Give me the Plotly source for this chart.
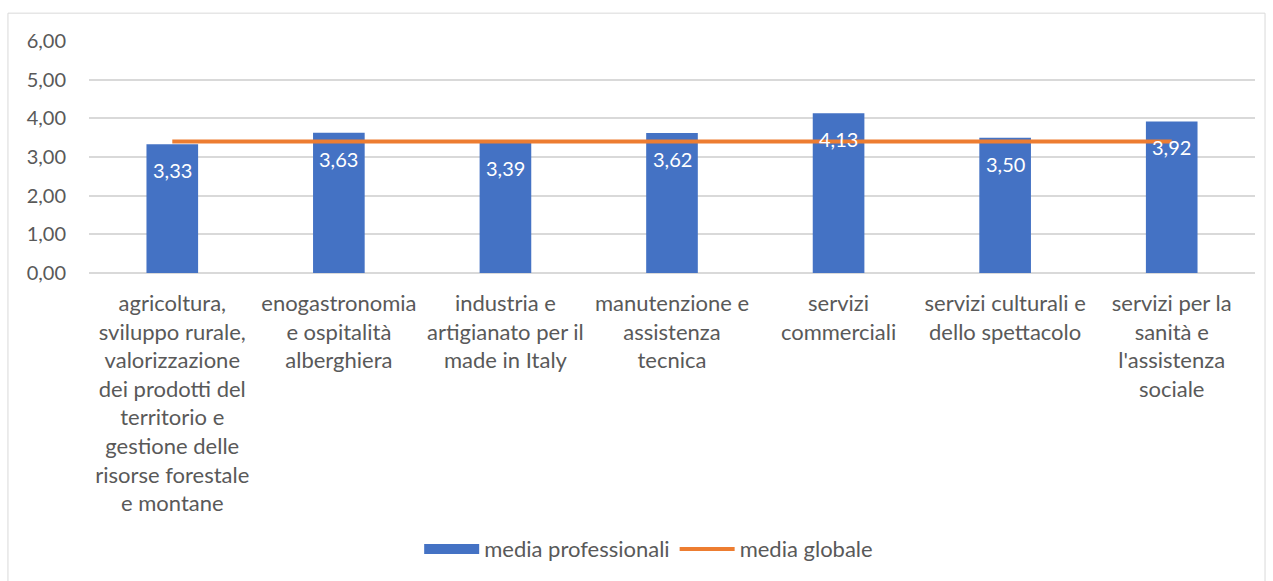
import plotly.graph_objects as go

categories = [
    "agricoltura,<br>sviluppo rurale,<br>valorizzazione<br>dei prodotti del<br>territorio e<br>gestione delle<br>risorse forestale<br>e montane",
    "enogastronomia<br>e ospitalità<br>alberghiera",
    "industria e<br>artigianato per il<br>made in Italy",
    "manutenzione e<br>assistenza<br>tecnica",
    "servizi<br>commerciali",
    "servizi culturali e<br>dello spettacolo",
    "servizi per la<br>sanità e<br>l'assistenza<br>sociale",
]
media_professionali = [3.33, 3.63, 3.39, 3.62, 4.13, 3.50, 3.92]
media_globale = [3.40] * len(categories)

FONT = "Lato, 'Open Sans', sans-serif"
GREY = "#595959"
BLUE = "#4472C4"
ORANGE = "#ED7D31"

fig = go.Figure()
fig.add_trace(go.Bar(
    x=categories, y=media_professionali, name="media professionali",
    marker=dict(color=BLUE, line=dict(width=0)), width=0.31,
    showlegend=False,
))
# wide legend swatch for the bar series
fig.add_trace(go.Scatter(
    x=[None], y=[None], name="media professionali", mode="lines",
    line=dict(color=BLUE, width=13), hoverinfo="skip",
))
fig.add_trace(go.Scatter(
    x=categories, y=media_globale, name="media globale", mode="lines",
    line=dict(color=ORANGE, width=4),
))

# value labels just inside the top of each bar
for cat, v in zip(categories, media_professionali):
    fig.add_annotation(
        x=cat, y=v, yanchor="top", yshift=-12, showarrow=False,
        text=f"{v:.2f}".replace(".", ","),
        font=dict(family=FONT, size=20, color="white"),
    )

# outer chart border
fig.add_shape(type="rect", xref="paper", yref="paper",
              x0=-0.0695, x1=1.0086, y0=-1.37, y1=1.12,
              line=dict(color="#D9D9D9", width=1), layer="below")

fig.update_layout(
    width=1273, height=581,
    margin=dict(l=89, r=18, t=41, b=308),
    paper_bgcolor="white", plot_bgcolor="white",
    separators=",.",
    font=dict(family=FONT, size=20, color=GREY),
    bargap=0.69,
    showlegend=True,
    legend=dict(orientation="h", x=0.48, xanchor="center", y=-1.19, yanchor="middle",
                font=dict(family=FONT, size=22, color=GREY), itemwidth=55,
                traceorder="normal"),
    xaxis=dict(showgrid=False, showline=False, ticks="", tickangle=0,
               ticklabelstandoff=15,
               tickfont=dict(family=FONT, size=22, color=GREY)),
    yaxis=dict(range=[0, 6], dtick=1, tickformat=".2f", showgrid=True,
               gridcolor="#D9D9D9", gridwidth=1.5, zeroline=True,
               zerolinecolor="#D9D9D9", zerolinewidth=1.5, showline=False,
               ticks="", ticklabelstandoff=22,
               tickfont=dict(family=FONT, size=20, color=GREY)),
)

fig.write_html("out.html")
